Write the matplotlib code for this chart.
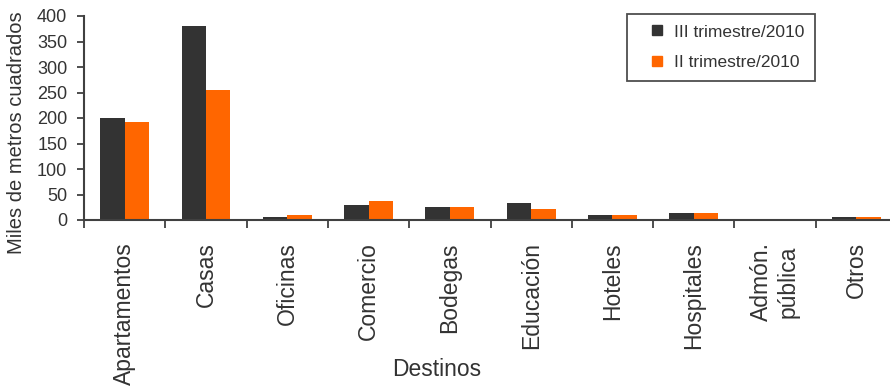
import matplotlib
matplotlib.use("Agg")
import matplotlib.pyplot as plt
from matplotlib.lines import Line2D
import numpy as np

categories = ["Apartamentos", "Casas", "Oficinas", "Comercio", "Bodegas",
              "Educación", "Hoteles", "Hospitales", "Admón.\npública", "Otros"]
iii_2010 = [200, 380, 6, 30, 26, 34, 10, 14, 0, 6]
ii_2010 = [192, 255, 10, 37, 26, 22, 10, 14, 0, 6]
series_labels = ["III trimestre/2010", "II trimestre/2010"]
series_colors = ['#333333', '#FF6600']
yticks = [0, 50, 100, 150, 200, 250, 300, 350, 400]

plt.rcParams['font.family'] = ['Liberation Sans', 'DejaVu Sans']
txt = '#333333'
fig = plt.figure(figsize=(8.9, 3.91), dpi=100)
W, H = 890, 391
ax = fig.add_axes([84 / W, 1 - 220 / H, 813 / W, 204 / H])

x = np.arange(len(categories))
w = 0.3
ax.bar(x - w / 2, iii_2010, width=w, color=series_colors[0])
ax.bar(x + w / 2, ii_2010, width=w, color=series_colors[1])

ax.set_xlim(-0.5, len(categories) - 0.5)
ax.set_ylim(0, 400)
ax.set_yticks(yticks)
ax.set_yticklabels([str(v) for v in yticks], fontsize=13, color=txt)

ax.set_xticks(np.arange(len(categories) + 1) - 0.5)
ax.set_xticklabels([])
ax.set_xticks(x, minor=True)
ax.set_xticklabels(categories, minor=True, rotation=90, fontsize=16.5, color=txt,
                   va='top', ha='center')
ax.tick_params(axis='x', which='major', length=6, width=1.3, color='#404040', direction='out')
ax.tick_params(axis='x', which='minor', length=0, pad=16)
ax.tick_params(axis='y', length=5, width=1.3, color='#404040', pad=7)

for s in ['top', 'right']:
    ax.spines[s].set_visible(False)
for s in ['left', 'bottom']:
    ax.spines[s].set_color('#404040')
    ax.spines[s].set_linewidth(1.5)

fig.text(17 / W, 1 - 133 / H, "Miles de metros cuadrados", rotation=90,
         ha='center', va='center', fontsize=14.5, color=txt)
fig.text(437 / W, 1 - 370 / H, "Destinos", ha='center', va='center',
         fontsize=16.5, color=txt)

handles = [Line2D([], [], linestyle='none', marker='s', markersize=6.5,
                  markerfacecolor=c, markeredgecolor=c) for c in series_colors]
leg = ax.legend(handles, series_labels, loc='upper left',
                bbox_to_anchor=(627 / W, 1 - 14 / H),
                bbox_transform=fig.transFigure, fontsize=12.5, frameon=True,
                fancybox=False, edgecolor='#222222', handlelength=2.3,
                handletextpad=-0.2, labelspacing=0.9,
                borderpad=0.6, borderaxespad=0)
leg.get_frame().set_linewidth(1.3)
for t in leg.get_texts():
    t.set_color(txt)

fig.savefig("out.png", dpi=100)
